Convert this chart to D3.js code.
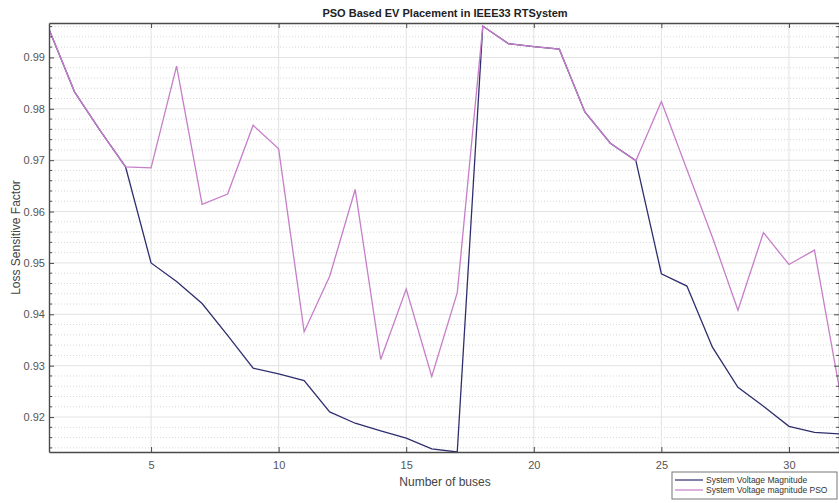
<!DOCTYPE html>
<html>
<head>
<meta charset="utf-8">
<script src="https://cdn.jsdelivr.net/npm/d3@7"></script>
<style>
  body { margin: 0; background: #fff; }
  svg { display: block; font-family: "Liberation Sans", Arial, sans-serif; }
</style>
</head>
<body>
<svg id="chart" width="839" height="503"></svg>
<script>
// bus numbers and the two series
const buses = [1, 2, 3, 4, 5, 6, 7, 8, 9, 10, 11, 12, 13, 14, 15, 16,
  17, 18, 19, 20, 21, 22, 23, 24, 25, 26, 27, 28, 29, 30, 31, 32];
const voltage = [0.9955, 0.9833, 0.9758, 0.9687, 0.9500, 0.9464, 0.9421, 0.9359,
  0.9295, 0.9284, 0.9271, 0.9210, 0.9188, 0.9173, 0.9159, 0.9138,
  0.9132, 0.9961, 0.9927, 0.9921, 0.9916, 0.9794, 0.9733, 0.9699,
  0.9479, 0.9455, 0.9336, 0.9258, 0.9221, 0.9182, 0.9170, 0.9167];
const voltagePSO = [0.9955, 0.9833, 0.9758, 0.9687, 0.9685, 0.9883, 0.9614, 0.9634,
  0.9768, 0.9722, 0.9366, 0.9474, 0.9643, 0.9312, 0.9449, 0.9279,
  0.9442, 0.9961, 0.9927, 0.9921, 0.9916, 0.9794, 0.9733, 0.9699,
  0.9814, 0.9682, 0.9550, 0.9408, 0.9559, 0.9497, 0.9525, 0.9249];
const xTicks = [5, 10, 15, 20, 25, 30];
const yTicks = [0.92, 0.93, 0.94, 0.95, 0.96, 0.97, 0.98, 0.99];
const seriesNames = ["System Voltage Magnitude", "System Voltage magnitude PSO"];
const seriesColors = ["#2e2e6e", "#c77ec9"];

const svg = d3.select("#chart");
const plotLeft = 49, plotRight = 840, plotTop = 23, plotBottom = 452;

const x = d3.scaleLinear().domain([1, 32]).range([plotLeft, plotRight]);
const y = d3.scaleLinear().domain([0.9132, 0.9967]).range([plotBottom, plotTop]);

// clip for the plot area
svg.append("clipPath").attr("id", "plot-clip")
  .append("rect")
  .attr("x", plotLeft).attr("y", plotTop)
  .attr("width", plotRight - plotLeft).attr("height", plotBottom - plotTop);

const grid = svg.append("g");

// minor horizontal grid (dotted)
const minorY = y.ticks(40).filter((t) => !yTicks.some((m) => Math.abs(m - t) < 1e-6));
grid.selectAll(".minor-y")
  .data(minorY)
  .enter()
  .append("line")
  .attr("x1", plotLeft).attr("x2", plotRight)
  .attr("y1", (d) => y(d)).attr("y2", (d) => y(d))
  .attr("stroke", "#d8d8d8")
  .attr("stroke-dasharray", "1,2");

// major grid
grid.selectAll(".major-y")
  .data(yTicks)
  .enter()
  .append("line")
  .attr("x1", plotLeft).attr("x2", plotRight)
  .attr("y1", (d) => y(d)).attr("y2", (d) => y(d))
  .attr("stroke", "#e2e2e2");

grid.selectAll(".major-x")
  .data(xTicks)
  .enter()
  .append("line")
  .attr("y1", plotTop).attr("y2", plotBottom)
  .attr("x1", (d) => x(d)).attr("x2", (d) => x(d))
  .attr("stroke", "#e2e2e2");

// lines
const line = (vals) => d3.line()
  .x((d, i) => x(buses[i]))
  .y((d) => y(d))(vals);

const plot = svg.append("g").attr("clip-path", "url(#plot-clip)");
[voltage, voltagePSO].forEach((vals, i) => {
  plot.append("path")
    .attr("d", line(vals))
    .attr("fill", "none")
    .attr("stroke", seriesColors[i])
    .attr("stroke-width", 1.3);
});

// axes (ticks pointing inward, box on)
const axisColor = "#4a4a4a";
const xAxis = svg.append("g")
  .attr("transform", `translate(0,${plotBottom})`)
  .call(d3.axisBottom(x).tickValues(xTicks).tickSizeInner(-5).tickSizeOuter(0).tickPadding(9));
const xAxisTop = svg.append("g")
  .attr("transform", `translate(0,${plotTop})`)
  .call(d3.axisTop(x).tickValues(xTicks).tickSizeInner(-5).tickSizeOuter(0).tickFormat(""));
const yAxis = svg.append("g")
  .attr("transform", `translate(${plotLeft},0)`)
  .call(d3.axisLeft(y).tickValues(yTicks).tickSizeInner(-5).tickSizeOuter(0).tickPadding(4));
const yAxisRight = svg.append("g")
  .attr("transform", `translate(${plotRight - 1},0)`)
  .call(d3.axisRight(y).tickValues(yTicks).tickSizeInner(-5).tickSizeOuter(0).tickFormat(""));

// minor y ticks
[[plotLeft, 3], [plotRight - 1, -3]].forEach(([px, len]) => {
  svg.append("g").selectAll("line")
    .data(minorY)
    .enter()
    .append("line")
    .attr("x1", px).attr("x2", px + len)
    .attr("y1", (d) => y(d)).attr("y2", (d) => y(d))
    .attr("stroke", axisColor);
});

[xAxis, xAxisTop, yAxis, yAxisRight].forEach((a) => {
  a.select(".domain").attr("stroke", axisColor).attr("stroke-width", 1.4);
  a.selectAll(".tick line").attr("stroke", axisColor);
  a.selectAll("text")
    .attr("fill", "#555")
    .style("font-size", "11px")
    .style("font-family", "'Liberation Sans', Arial, sans-serif");
});

// title and labels
svg.append("text")
  .attr("x", 445).attr("y", 17)
  .attr("text-anchor", "middle")
  .attr("font-weight", "bold")
  .attr("font-size", 11)
  .attr("fill", "#222")
  .text("PSO Based EV Placement in IEEE33 RTSystem");

svg.append("text")
  .attr("x", 445).attr("y", 486)
  .attr("text-anchor", "middle")
  .attr("font-size", 12)
  .attr("fill", "#444")
  .text("Number of buses");

svg.append("text")
  .attr("transform", `translate(20,${(plotTop + plotBottom) / 2}) rotate(-90)`)
  .attr("text-anchor", "middle")
  .attr("font-size", 12)
  .attr("fill", "#444")
  .text("Loss Sensitive Factor");

// legend
const legend = svg.append("g").attr("transform", "translate(672,472)");
legend.append("rect")
  .attr("width", 165).attr("height", 27)
  .attr("fill", "#fff")
  .attr("stroke", "#777");
seriesNames.forEach((name, i) => {
  const row = legend.append("g").attr("transform", `translate(0,${8 + i * 10})`);
  row.append("line")
    .attr("x1", 3).attr("x2", 31)
    .attr("stroke", seriesColors[i])
    .attr("stroke-width", 1.2);
  row.append("text")
    .attr("x", 34).attr("y", 3)
    .attr("font-size", 8.5)
    .attr("fill", "#333")
    .text(name);
});
</script>
</body>
</html>
